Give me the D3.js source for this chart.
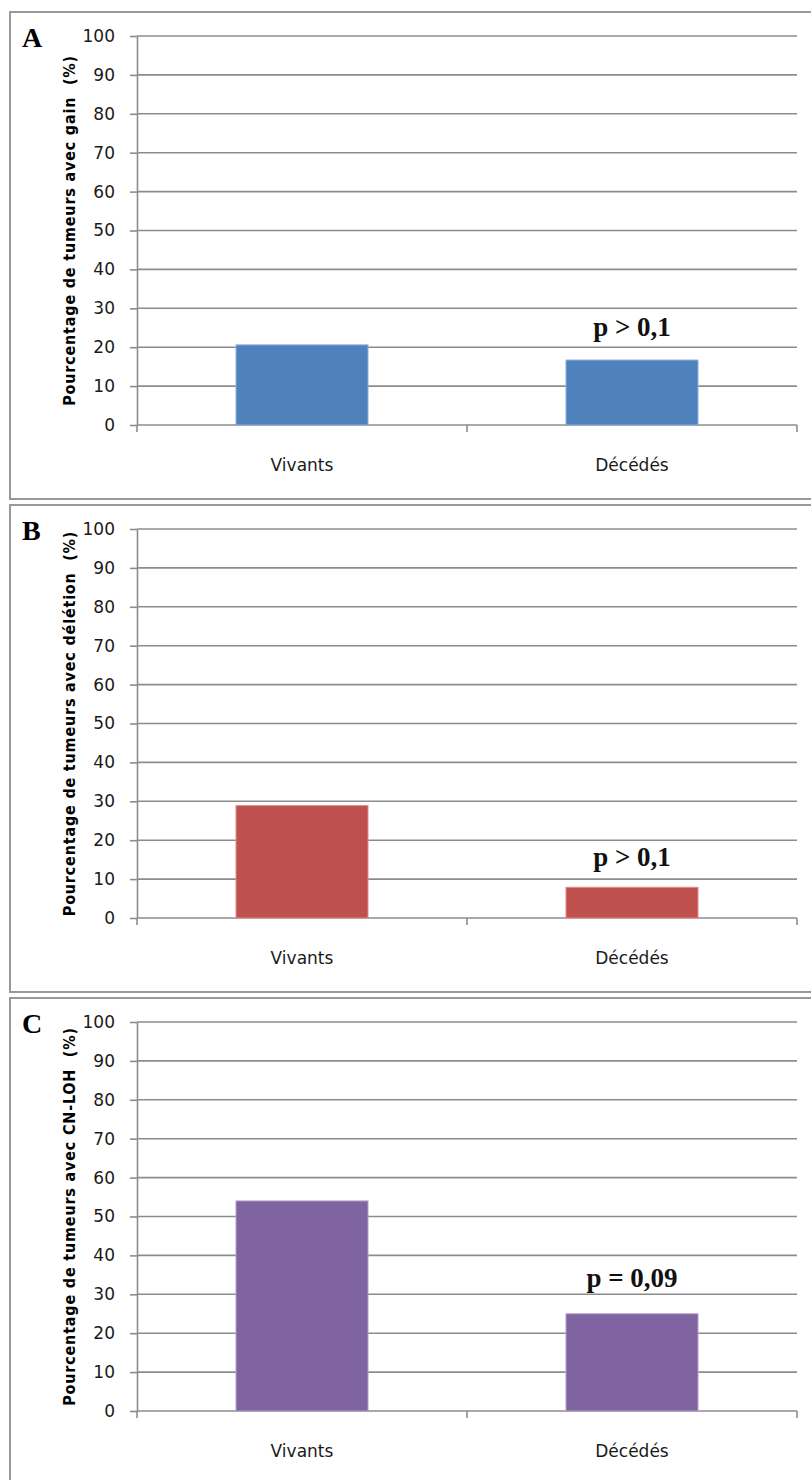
<!DOCTYPE html>
<html>
<head>
<meta charset="utf-8">
<script src="https://cdn.jsdelivr.net/npm/d3@7"></script>
<style>
  body { margin: 0; background: #fff; }
  svg { display: block; }
  text { white-space: pre; }
</style>
</head>
<body>
<svg id="chart" width="811" height="1480"></svg>
<script>
// Survival groups on the x axis
const categories = ["Vivants", "Décédés"];

// Percentage of tumours with each alteration, per group
const gainValues = [20.6, 16.7];
const deletionValues = [28.9, 7.9];
const cnlohValues = [54, 25];

// Y axis ticks (percent)
const yTickValues = [0, 10, 20, 30, 40, 50, 60, 70, 80, 90, 100];

// Panel texts
const panelLetters = ["A", "B", "C"];
const axisTitles = [
  "Pourcentage de tumeurs avec gain  (%)",
  "Pourcentage de tumeurs avec délétion  (%)",
  "Pourcentage de tumeurs avec CN-LOH  (%)"
];
const pValueLabels = ["p > 0,1", "p > 0,1", "p = 0,09"];

// Layout and styling of the three stacked panels
const panels = [
  { values: gainValues,     color: "#4F81BD", edge: "#8FB0DA", top: 12,  bottom: 499,  pGap: 24 },
  { values: deletionValues, color: "#C0504D", edge: "#DC8F8D", top: 505, bottom: 992,  pGap: 21 },
  { values: cnlohValues,    color: "#8064A2", edge: "#B1A0C9", top: 998, bottom: 1500, pGap: 27 }
];

const svg = d3.select("#chart");
const plotLeft = 137, plotRight = 797, plotHeight = 389;
const gridColor = "#8C8C8C";

const x = d3.scaleBand()
  .domain(categories)
  .range([plotLeft, plotRight])
  .paddingInner(0.6)
  .paddingOuter(0.3);

panels.forEach((p, i) => {
  const g = svg.append("g");

  // panel frame
  g.append("rect")
    .attr("x", 10).attr("y", p.top)
    .attr("width", 830).attr("height", p.bottom - p.top)
    .attr("fill", "#fff")
    .attr("stroke", "#999").attr("stroke-width", 2);

  const plotTop = p.top + 24;
  const y = d3.scaleLinear().domain([0, 100]).range([plotTop + plotHeight, plotTop]);

  // horizontal gridlines
  g.append("g")
    .selectAll("line")
    .data(yTickValues.filter(v => v > 0))
    .join("line")
    .attr("x1", plotLeft).attr("x2", plotRight)
    .attr("y1", d => y(d)).attr("y2", d => y(d))
    .attr("stroke", gridColor).attr("stroke-width", 1.6);

  // y axis
  const yAxis = g.append("g")
    .attr("transform", `translate(${plotLeft},0)`)
    .call(d3.axisLeft(y).tickValues(yTickValues).tickSize(7).tickPadding(15).tickSizeOuter(0));
  yAxis.select(".domain").attr("stroke", gridColor).attr("stroke-width", 1.6);
  yAxis.selectAll(".tick line").attr("stroke", gridColor).attr("stroke-width", 1.6);
  yAxis.selectAll(".tick text")
    .attr("font-family", "DejaVu Sans, Verdana, sans-serif")
    .attr("font-size", 17)
    .attr("fill", "#1a1a1a");

  // x axis baseline with ticks at category boundaries
  const baseY = y(0);
  g.append("line")
    .attr("x1", plotLeft).attr("x2", plotRight)
    .attr("y1", baseY).attr("y2", baseY)
    .attr("stroke", gridColor).attr("stroke-width", 1.6);
  const boundaries = d3.range(categories.length + 1).map(k => plotLeft + k * x.step());
  g.selectAll(".xtick")
    .data(boundaries)
    .join("line")
    .attr("class", "xtick")
    .attr("x1", d => d).attr("x2", d => d)
    .attr("y1", baseY).attr("y2", baseY + 7)
    .attr("stroke", gridColor).attr("stroke-width", 1.6);

  // category labels
  g.selectAll(".xlabel")
    .data(categories)
    .join("text")
    .attr("class", "xlabel")
    .attr("x", d => x(d) + x.bandwidth() / 2)
    .attr("y", baseY + 46)
    .attr("text-anchor", "middle")
    .attr("font-family", "DejaVu Sans, Verdana, sans-serif")
    .attr("font-size", 17)
    .attr("fill", "#1a1a1a")
    .text(d => d);

  // bars
  g.selectAll(".bar")
    .data(categories.map((c, k) => ({ c, v: p.values[k] })))
    .join("rect")
    .attr("class", "bar")
    .attr("x", d => x(d.c))
    .attr("y", d => y(d.v))
    .attr("width", x.bandwidth())
    .attr("height", d => baseY - y(d.v))
    .attr("fill", p.color)
    .attr("stroke", p.edge).attr("stroke-width", 1);

  // significance label above the second group
  const last = categories[categories.length - 1];
  g.append("text")
    .attr("x", x(last) + x.bandwidth() / 2)
    .attr("y", y(p.values[p.values.length - 1]) - p.pGap)
    .attr("text-anchor", "middle")
    .attr("font-family", "Liberation Serif, Times New Roman, serif")
    .attr("font-weight", "bold")
    .attr("font-size", 27)
    .attr("fill", "#111")
    .text(pValueLabels[i]);

  // y axis title
  g.append("text")
    .attr("transform", `translate(75,${plotTop + plotHeight / 2}) rotate(-90)`)
    .attr("text-anchor", "middle")
    .attr("font-family", "DejaVu Sans Condensed, DejaVu Sans, sans-serif")
    .attr("font-weight", "bold")
    .attr("font-size", 16)
    .attr("letter-spacing", 0.8)
    .attr("fill", "#000")
    .text(axisTitles[i]);

  // panel letter
  g.append("text")
    .attr("x", 22)
    .attr("y", p.top + 35)
    .attr("font-family", "Liberation Serif, Times New Roman, serif")
    .attr("font-weight", "bold")
    .attr("font-size", 28)
    .attr("fill", "#000")
    .text(panelLetters[i]);
});
</script>
</body>
</html>
